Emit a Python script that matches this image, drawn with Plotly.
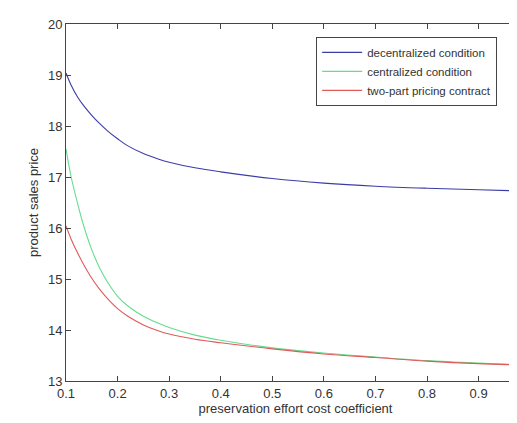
import plotly.graph_objects as go

x_vals = [0.1, 0.11, 0.123, 0.135, 0.149, 0.165, 0.181, 0.2, 0.22, 0.25, 0.28, 0.3, 0.35, 0.4, 0.5, 0.6, 0.7, 0.8, 0.9, 1.0]
decentralized = [19.04, 18.8, 18.56, 18.39, 18.22, 18.05, 17.9, 17.75, 17.61, 17.46, 17.35, 17.29, 17.18, 17.1, 16.97, 16.88, 16.82, 16.78, 16.75, 16.72]
centralized = [17.55, 17.0, 16.46, 16.02, 15.6, 15.22, 14.93, 14.66, 14.47, 14.27, 14.13, 14.05, 13.9, 13.8, 13.65, 13.55, 13.47, 13.4, 13.35, 13.31]
two_part = [16.04, 15.78, 15.5, 15.27, 15.03, 14.8, 14.61, 14.42, 14.27, 14.1, 13.98, 13.92, 13.82, 13.75, 13.63, 13.53, 13.46, 13.39, 13.34, 13.31]

series = [
    ("decentralized condition", decentralized, "#3c3ca8"),
    ("centralized condition", centralized, "#66dd8c"),
    ("two-part pricing contract", two_part, "#e05a5a"),
]

fig = go.Figure()
for name, ys, col in series:
    fig.add_trace(go.Scatter(x=x_vals, y=ys, mode="lines", name=name,
                             line=dict(color=col, width=1.1, shape="spline", smoothing=1.0)))

axis_common = dict(showline=True, linecolor="#444", linewidth=1, mirror="ticks",
                   ticks="inside", ticklen=5, tickcolor="#444", showgrid=False,
                   zeroline=False, automargin=False, tickfont=dict(size=13, color="#333"))

fig.update_layout(
    width=517, height=423,
    margin=dict(l=58, r=0, t=16, b=50, pad=0),
    paper_bgcolor="white", plot_bgcolor="white",
    font=dict(family="Liberation Sans, Arial, sans-serif", color="#333"),
    xaxis=dict(range=[0.1, 0.99], tickvals=[0.1, 0.2, 0.3, 0.4, 0.5, 0.6, 0.7, 0.8, 0.9],
               ticktext=["0.1", "0.2", "0.3", "0.4", "0.5", "0.6", "0.7", "0.8", "0.9"],
               title=dict(text="preservation effort cost coefficient", font=dict(size=13, color="#333"), standoff=4),
               **axis_common),
    yaxis=dict(range=[13, 20], tickvals=[13, 14, 15, 16, 17, 18, 19, 20],
               title=dict(text="product sales price", font=dict(size=13, color="#333"), standoff=6),
               **axis_common),
    legend=dict(x=0.545, y=0.964, xanchor="left", yanchor="top",
                bordercolor="#444", borderwidth=1, bgcolor="white",
                font=dict(size=11.5, color="#333"), itemwidth=40, tracegroupgap=0),
    showlegend=True,
)

fig.write_html("out.html")
